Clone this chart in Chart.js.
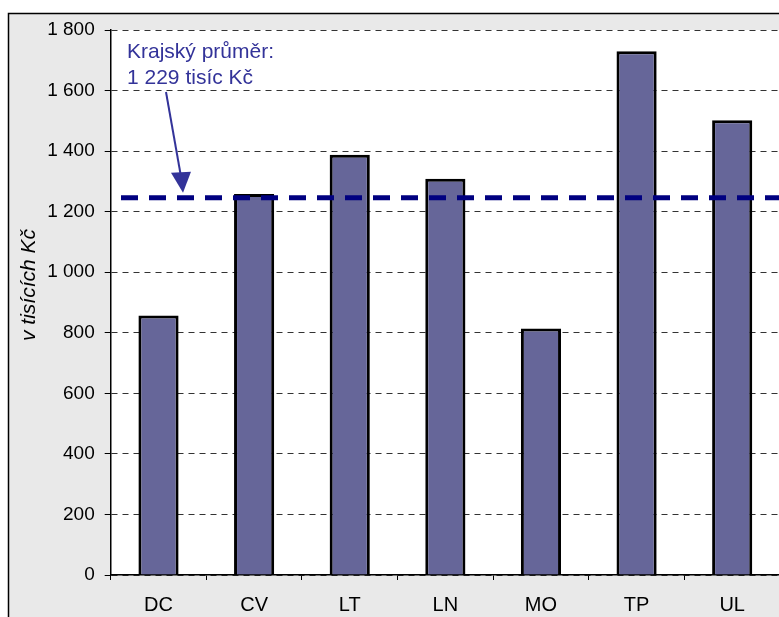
<!DOCTYPE html>
<html>
<head>
<meta charset="utf-8">
<script src="https://cdn.jsdelivr.net/npm/chart.js@4"></script>
<style>
  html, body { margin: 0; padding: 0; overflow: hidden; background: #fff; }
  canvas { display: block; }
</style>
</head>
<body>
<canvas id="grafOkresy" width="800" height="617"></canvas>
<script>
// --- data ---
const okresy = ['DC', 'CV', 'LT', 'LN', 'MO', 'TP', 'UL'];
const hodnoty = [857, 1258, 1388, 1309, 814, 1730, 1502];
const prumerHodnota = 1246; // čára je v grafu vykreslena zde
const prumerPopisek = ['Krajský průměr:', '1 229 tisíc Kč'];
const osaYMin = 0;
const osaYMax = 1800;
const osaYKrok = 200;
const osaYTitulek = 'v tisících Kč';

const pismo = "Arial, 'Liberation Sans', sans-serif";

function formatTisice(v) {
    return String(v).replace(/\B(?=(\d{3})+(?!\d))/g, ' ');
}

// šedé pozadí s rámečkem + bílá plocha grafu
const pozadi = {
    id: 'pozadi',
    beforeDraw(chart) {
        const { ctx, chartArea } = chart;
        ctx.save();
        ctx.fillStyle = '#e9e9e9';
        ctx.fillRect(8.5, 13.5, chart.width + 20, chart.height + 20);
        ctx.strokeStyle = '#000';
        ctx.lineWidth = 1.5;
        ctx.strokeRect(8.5, 13.5, chart.width + 20, chart.height + 20);
        ctx.fillStyle = '#fff';
        ctx.fillRect(chartArea.left, chartArea.top, chartArea.right - chartArea.left, chartArea.bottom - chartArea.top);
        ctx.restore();
    }
};

// krajský průměr: přerušovaná čára, šipka, popisek, titulek osy Y
const prumer = {
    id: 'prumer',
    afterDatasetsDraw(chart) {
        const { ctx } = chart;
        const y = chart.scales.y.getPixelForValue(prumerHodnota);

        ctx.save();
        ctx.strokeStyle = '#000080';
        ctx.lineWidth = 5;
        ctx.setLineDash([17, 11]);
        ctx.beginPath();
        ctx.moveTo(121, y);
        ctx.lineTo(chart.width, y);
        ctx.stroke();
        ctx.setLineDash([]);

        // šipka
        const tipX = 183, tipY = y - 5;
        ctx.strokeStyle = '#333399';
        ctx.fillStyle = '#333399';
        ctx.lineWidth = 2;
        ctx.beginPath();
        ctx.moveTo(166, 92);
        ctx.lineTo(tipX - 2, tipY - 16);
        ctx.stroke();
        ctx.beginPath();
        ctx.moveTo(tipX, tipY);
        ctx.lineTo(171, tipY - 20);
        ctx.lineTo(191, tipY - 21);
        ctx.closePath();
        ctx.fill();

        // popisek
        ctx.font = '21px ' + pismo;
        ctx.textAlign = 'left';
        ctx.textBaseline = 'alphabetic';
        ctx.fillText(prumerPopisek[0], 127, 58);
        ctx.fillText(prumerPopisek[1], 127, 84);

        // titulek osy Y
        ctx.fillStyle = '#000';
        ctx.font = 'italic 21px ' + pismo;
        ctx.translate(29, 285);
        ctx.rotate(-Math.PI / 2);
        ctx.textAlign = 'center';
        ctx.textBaseline = 'middle';
        ctx.fillText(osaYTitulek, 0, 0);
        ctx.restore();
    }
};

new Chart(document.getElementById('grafOkresy').getContext('2d'), {
    type: 'bar',
    data: {
        labels: okresy,
        datasets: [{
            label: 'Průměr',
            data: hodnoty,
            backgroundColor: '#666699',
            borderColor: '#000',
            borderWidth: 3,
            barPercentage: 0.42,
            categoryPercentage: 1
        }]
    },
    options: {
        responsive: false,
        animation: false,
        devicePixelRatio: 1,
        layout: { padding: { left: 8, right: 20, top: 30, bottom: 0 } },
        plugins: {
            legend: { display: false },
            tooltip: { enabled: false }
        },
        scales: {
            x: {
                afterFit: s => { s.height = 42; },
                grid: {
                    offset: true,
                    drawOnChartArea: false,
                    drawTicks: true,
                    tickLength: 5,
                    tickColor: '#000'
                },
                border: { color: '#000', width: 1.5 },
                ticks: {
                    color: '#000',
                    padding: 13,
                    font: { family: pismo, size: 20 }
                }
            },
            y: {
                min: osaYMin,
                max: osaYMax,
                afterFit: s => { s.width = 102.7; },
                grid: {
                    color: '#333',
                    lineWidth: 1,
                    tickLength: 6,
                    tickColor: '#000'
                },
                border: { color: '#000', width: 1.5, dash: [6, 5] },
                ticks: {
                    stepSize: osaYKrok,
                    color: '#000',
                    padding: 10,
                    font: { family: pismo, size: 19 },
                    callback: v => formatTisice(v)
                }
            }
        }
    },
    plugins: [pozadi, prumer]
});
</script>
</body>
</html>
